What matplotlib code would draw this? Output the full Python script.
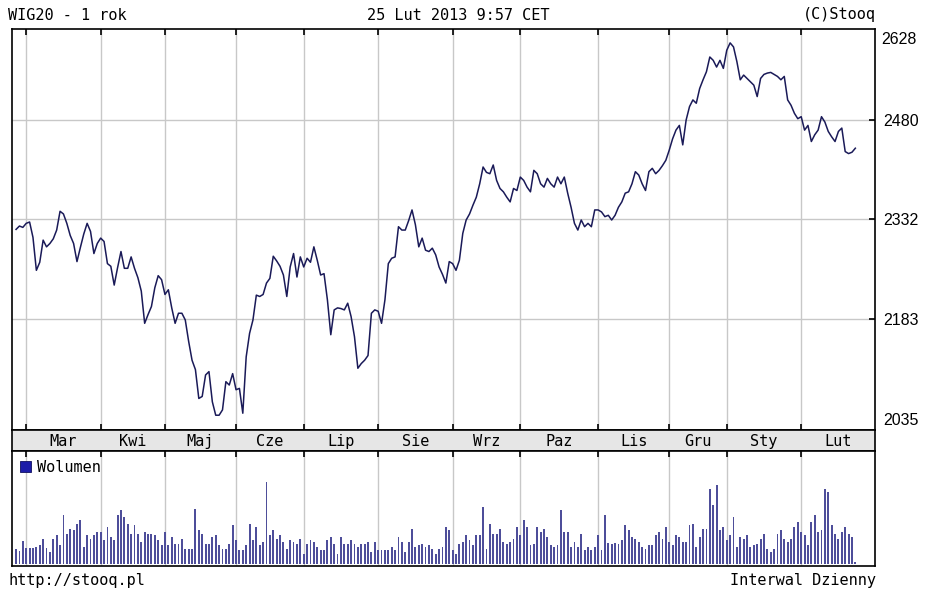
import numpy as np
import matplotlib.pyplot as plt
from matplotlib.patches import Rectangle

# WIG20 daily closes, 27 Feb 2012 .. 25 Feb 2013
close = [2317, 2322, 2320, 2326, 2328, 2305, 2256, 2268, 2301, 2291,
         2296, 2303, 2316, 2344, 2340, 2326, 2308, 2296, 2269, 2290,
         2310, 2326, 2314, 2281, 2296, 2304, 2299, 2266, 2262, 2234,
         2260, 2284, 2259, 2259, 2276, 2259, 2245, 2225, 2177, 2190,
         2202, 2230, 2248, 2242, 2220, 2227, 2200, 2177, 2192, 2192,
         2182, 2150, 2122, 2108, 2065, 2068, 2100, 2105, 2060, 2040,
         2040, 2048, 2090, 2085, 2102, 2078, 2080, 2043, 2127, 2162,
         2182, 2219, 2217, 2220, 2237, 2244, 2277, 2270, 2262, 2249,
         2217, 2261, 2281, 2246, 2276, 2261, 2274, 2268, 2291, 2271,
         2249, 2251, 2212, 2160, 2197, 2200, 2199, 2197, 2207, 2187,
         2157, 2110, 2117, 2122, 2129, 2192, 2197, 2195, 2177, 2212,
         2266, 2274, 2276, 2321, 2316, 2316, 2330, 2346, 2324, 2291,
         2304, 2286, 2284, 2289, 2279, 2261, 2250, 2237, 2269, 2266,
         2256, 2271, 2311, 2331, 2340, 2353, 2365, 2385, 2410, 2402,
         2400, 2413, 2390, 2378, 2373, 2365, 2358, 2378, 2375, 2395,
         2390, 2380, 2373, 2405, 2400, 2385, 2380, 2393, 2385, 2380,
         2395, 2385, 2395, 2371, 2350, 2326, 2316, 2331, 2321, 2326,
         2321, 2346, 2346, 2343, 2336, 2338, 2331, 2338, 2350, 2358,
         2371, 2373, 2385, 2403, 2398, 2385, 2375, 2403, 2408, 2400,
         2405, 2412, 2420, 2435, 2452, 2465, 2472, 2443, 2480, 2500,
         2510, 2505, 2527, 2540, 2552, 2574, 2569, 2559, 2569, 2557,
         2584, 2595, 2589, 2567, 2540, 2547, 2542, 2537, 2532, 2515,
         2542, 2548, 2550, 2551, 2548, 2545, 2540, 2545, 2510, 2502,
         2490, 2482, 2485, 2465, 2472, 2448, 2458, 2465, 2485, 2477,
         2463, 2455, 2448, 2463, 2468, 2433, 2430, 2432, 2438]

# volume, arbitrary units
volume = [43, 39, 69, 46, 46, 46, 51, 55, 75, 46,
          35, 75, 85, 55, 145, 89, 105, 101, 120, 130,
          50, 85, 75, 85, 95, 95, 70, 110, 80, 70,
          145, 160, 140, 120, 90, 115, 90, 65, 95, 90,
          88, 85, 70, 55, 95, 55, 80, 60, 60, 75,
          45, 45, 45, 165, 100, 90, 60, 60, 80, 85,
          55, 45, 45, 60, 115, 70, 40, 40, 55, 120,
          70, 110, 55, 65, 246, 85, 100, 75, 85, 65,
          45, 70, 65, 60, 75, 30, 60, 70, 65, 50,
          40, 40, 70, 80, 60, 30, 80, 60, 60, 70,
          60, 50, 60, 60, 65, 35, 65, 40, 40, 40,
          40, 50, 40, 80, 65, 35, 65, 105, 50, 55,
          60, 50, 55, 45, 30, 45, 50, 110, 100, 40,
          30, 60, 65, 85, 70, 55, 85, 85, 170, 45,
          120, 90, 90, 105, 65, 60, 65, 75, 110, 85,
          130, 110, 55, 60, 110, 95, 105, 80, 55, 50,
          55, 160, 95, 95, 50, 65, 50, 90, 40, 50,
          40, 50, 85, 40, 145, 63, 60, 63, 60, 70,
          115, 100, 80, 75, 65, 50, 45, 55, 55, 85,
          95, 75, 110, 65, 55, 85, 80, 65, 65, 115,
          120, 50, 80, 105, 105, 225, 175, 235, 100, 110,
          70, 85, 140, 50, 80, 75, 85, 50, 55, 60,
          75, 90, 45, 35, 45, 90, 100, 75, 65, 75,
          110, 125, 95, 85, 55, 125, 145, 95, 100, 225,
          215, 115, 90, 75, 95, 110, 90, 80, 6]

months = ['Mar', 'Kwi', 'Maj', 'Cze', 'Lip', 'Sie', 'Wrz', 'Paz', 'Lis',
          'Gru', 'Sty', 'Lut']
month_start = [3, 25, 44, 65, 85, 107, 129, 149, 172, 193, 210, 232]
price_ticks = [2035, 2183, 2332, 2480]
price_max_label = '2628'

days = np.arange(len(close))
xmin, xmax = -1.2, 253.8

mono = 'DejaVu Sans Mono'
grid_c = '#c8c8c8'

fig = plt.figure(figsize=(9.48, 5.93), dpi=100)
fig.patch.set_facecolor('white')

ax = fig.add_axes([0.01266, 0.2749, 0.9103, 0.6754])
band = fig.add_axes([0.01266, 0.23997, 0.9103, 0.0349])
axv = fig.add_axes([0.01266, 0.04604, 0.9103, 0.1939])

# price panel
ax.plot(days, close, color='#1a1a58', lw=1.1)
ax.set_xlim(xmin, xmax)
ax.set_ylim(2018, 2615)
ax.set_xticks(month_start)
ax.set_xticklabels([])
ax.tick_params(axis='x', direction='in', length=4, width=1.2, top=True, bottom=True)
ax.yaxis.tick_right()
ax.set_yticks(price_ticks)
ax.set_yticklabels([str(v) for v in price_ticks], fontsize=11.5,
                   family='Liberation Sans')
ax.tick_params(axis='y', direction='in', length=4, width=1.2, pad=6, left=False)
ax.grid(True, color=grid_c, lw=1.0)
ax.yaxis.get_gridlines()[0].set_visible(False)
ax.yaxis.get_major_ticks()[0].tick2line.set_visible(False)
# top label sits at the frame edge
ax.text(1.0 + 6.5 / 863, 0.974, price_max_label, transform=ax.transAxes,
        fontsize=11.5, family='Liberation Sans', ha='left', va='center')
for s in ax.spines.values():
    s.set_linewidth(1.2)

# month band
band.set_facecolor('#e6e6e6')
band.set_xlim(xmin, xmax)
band.set_ylim(0, 1)
band.set_xticks([])
band.set_yticks([])
edges = month_start + [xmax]
for m, a, b in zip(months, edges[:-1], edges[1:]):
    band.text((a + b) / 2, 0.45, m, ha='center', va='center', family=mono,
              fontsize=11)
for s in band.spines.values():
    s.set_linewidth(1.2)

# volume panel
axv.bar(days, volume, width=0.55, color='#4e4e9a', linewidth=0)
axv.set_xlim(xmin, xmax)
axv.set_ylim(-6, 339)
axv.set_xticks(month_start)
axv.set_xticklabels([])
axv.set_yticks([])
axv.tick_params(axis='x', direction='in', length=4, width=1.2, top=True, bottom=False)
axv.grid(True, axis='x', color=grid_c, lw=1.0)
axv.set_axisbelow(True)
for s in axv.spines.values():
    s.set_linewidth(1.2)
axv.add_patch(Rectangle((0.0093, 0.815), 0.0127, 0.0957, transform=axv.transAxes,
                        facecolor='#1c1ca8', edgecolor='#101060', lw=0.6))
axv.text(0.029, 0.858, 'Wolumen', transform=axv.transAxes, family=mono,
         fontsize=11, va='center', ha='left')

# header and footer
fig.text(8 / 948, 1 - 15 / 593, 'WIG20 - 1 rok', family=mono, fontsize=11,
         va='center', ha='left')
fig.text(458 / 948, 1 - 15 / 593, '25 Lut 2013 9:57 CET', family=mono,
         fontsize=11, va='center', ha='center')
fig.text(876 / 948, 1 - 15 / 593, '(C)Stooq', family=mono, fontsize=11,
         va='center', ha='right')
fig.text(9 / 948, 1 - 581 / 593, 'http://stooq.pl', family=mono, fontsize=11,
         va='center', ha='left')
fig.text(876 / 948, 1 - 581 / 593, 'Interwal Dzienny', family=mono, fontsize=11,
         va='center', ha='right')

fig.savefig('out.png', dpi=100)
